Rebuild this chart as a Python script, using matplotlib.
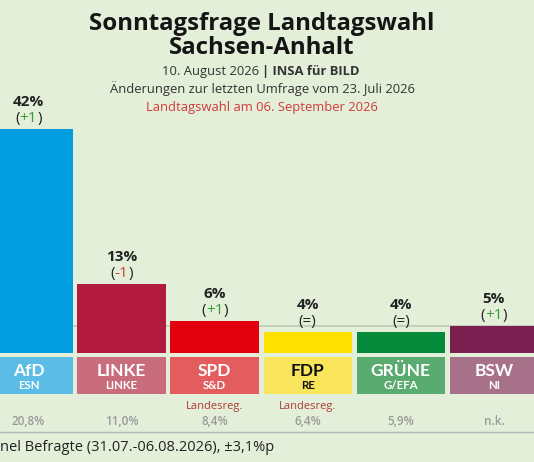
import matplotlib
matplotlib.use("Agg")
import matplotlib.pyplot as plt

parties = ["AfD", "LINKE", "SPD", "FDP", "GRÜNE", "BSW"]
groups = ["ESN", "LINKE", "S&D", "RE", "G/EFA", "NI"]
values = [42, 13, 6, 4, 4, 5]
changes = ["+1", "-1", "+1", "=", "=", "+1"]
prev_results = ["20,8%", "11,0%", "8,4%", "6,4%", "5,9%", "n.k."]
gov_note = ["", "", "Landesreg.", "Landesreg.", "", ""]
bar_colors = ["#009ee0", "#b31b3e", "#e2000f", "#ffe100", "#05893a", "#7a1f4f"]
box_colors = ["#5bbde6", "#c96c7c", "#e35c5e", "#f9e55c", "#5aab6f", "#a8718a"]
box_text_colors = ["white", "white", "white", "#111111", "white", "white"]
threshold = 5

BG = "#e3efd8"
DPI = 100
fig = plt.figure(figsize=(5.34, 4.62), dpi=DPI, facecolor=BG)
ax = fig.add_axes([0, 0, 1, 1], facecolor=BG)
ax.set_xlim(-0.305, 5.43)
ax.set_ylim(-20.45, 66.2)
ax.axis("off")

x = list(range(len(parties)))
W = 0.95
ax.axhline(threshold, color="#bccbb4", lw=1.2, zorder=1)
ax.bar(x, values, width=W, color=bar_colors, zorder=2)
ax.bar(x, [6.9] * len(x), bottom=-7.7, width=W, color=box_colors, zorder=2)
ax.axhline(-14.8, color="#b5b5b5", lw=1.0, zorder=1)

fig.canvas.draw()
renderer = fig.canvas.get_renderer()

body = "Open Sans"
head = "Lato"
dark = "#222222"


def text_width_pt(s, **kw):
    t = ax.text(0, 0, s, **kw)
    w = t.get_window_extent(renderer).width * 72 / DPI
    t.remove()
    return w


for i, (v, c) in enumerate(zip(values, changes)):
    ax.text(i, v + 4.3, f"{v}%", ha="center", va="baseline", fontsize=11,
            fontweight="bold", family=body, color=dark)
    yb = v + 1.3
    kw = dict(fontsize=11, family=body)
    if c == "=":
        ax.text(i, yb, "(=)", ha="center", va="baseline", color=dark, **kw)
    else:
        col = "#3a9a3a" if c.startswith("+") else "#c8402f"
        full = text_width_pt(f"({c})", **kw)
        pre = text_width_pt(f"({c}", **kw)
        num = text_width_pt(c, **kw)
        left = -full / 2
        ax.annotate("(", (i, yb), xytext=(left, 0), textcoords="offset points",
                    ha="left", va="baseline", color=dark, **kw)
        ax.annotate(c, (i, yb), xytext=(left + pre - num, 0), textcoords="offset points",
                    ha="left", va="baseline", color=col, **kw)
        ax.annotate(")", (i, yb), xytext=(full / 2, 0), textcoords="offset points",
                    ha="right", va="baseline", color=dark, **kw)

for i in x:
    ax.text(i, -4.3, parties[i], ha="center", va="baseline", fontsize=12.5,
            fontweight="bold", family=head, color=box_text_colors[i])
    ax.text(i, -6.85, groups[i], ha="center", va="baseline", fontsize=8.3,
            fontweight="bold", family=head, color=box_text_colors[i])
    if gov_note[i]:
        ax.text(i, -10.6, gov_note[i], ha="center", va="baseline", fontsize=8,
                family=body, color="#b03a36")
    ax.text(i, -13.5, prev_results[i], ha="center", va="baseline", fontsize=8.5,
            fontweight="semibold", family=body, color="#9a9a9a")

ax.text(-0.305, -18.4, "nel Befragte (31.07.-06.08.2026), ±3,1%p", ha="left",
        va="baseline", fontsize=10.5, family=body, color=dark)

cx = 262 / 534
fig.text(cx, 1 - 29.5 / 462, "Sonntagsfrage Landtagswahl", ha="center", va="baseline",
         fontsize=17.3, fontweight="bold", family=body, color="#151515")
fig.text(cx, 1 - 54 / 462, "Sachsen-Anhalt", ha="center", va="baseline",
         fontsize=17.3, fontweight="bold", family=body, color="#151515")
fig.text(cx, 1 - 74.5 / 462, "10. August 2026 ", ha="right", va="baseline",
         fontsize=9.4, family=body, color="#333333")
fig.text(cx, 1 - 74.5 / 462, "| INSA für BILD", ha="left", va="baseline",
         fontsize=9.4, fontweight="bold", family=body, color="#333333")
fig.text(cx, 1 - 93 / 462, "Änderungen zur letzten Umfrage vom 23. Juli 2026",
         ha="center", va="baseline", fontsize=9.4, family=body, color="#333333")
fig.text(cx, 1 - 111 / 462, "Landtagswahl am 06. September 2026",
         ha="center", va="baseline", fontsize=9.4, family=body, color="#d23a3a")

fig.savefig("out.png", dpi=DPI, facecolor=BG)
